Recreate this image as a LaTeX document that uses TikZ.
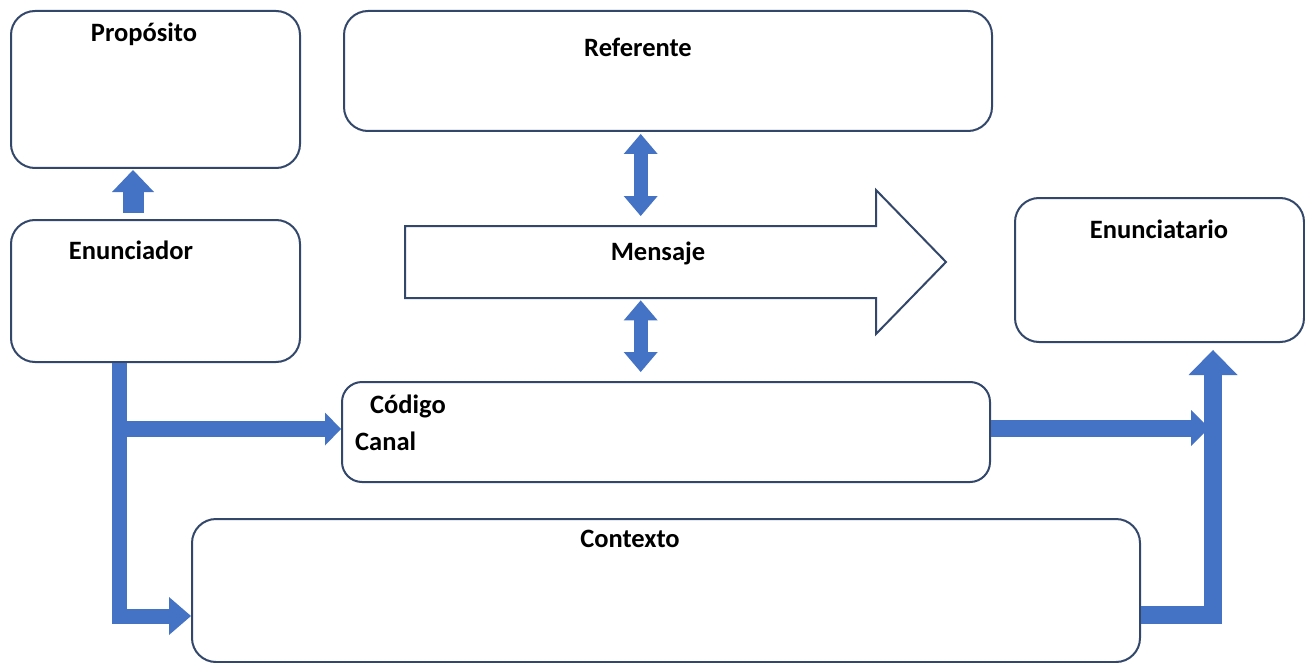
\documentclass[tikz,border=0pt]{standalone}
\usepackage{fontspec}
\setmainfont{Carlito}
\usetikzlibrary{arrows.meta,calc}
\definecolor{edgec}{HTML}{33476A}
\definecolor{bluef}{HTML}{4472C4}
\begin{document}
\begin{tikzpicture}[x=1pt,y=-1pt,
  box/.style={draw=edgec,line width=2pt,fill=white,rounded corners=24pt,anchor=north west,inner sep=0pt},
  lbl/.style={font=\bfseries\fontsize{26.5}{31}\selectfont,anchor=base,inner sep=0pt},
  conn/.style={draw=bluef,line width=16pt},
  msgshape/.style={draw=edgec,line width=2pt,fill=white,line join=miter}]
\useasboundingbox (0,0) rectangle (1305,663);
% boxes
\node[box,minimum width=289pt,minimum height=157pt] (prop) at (10,10) {};
\node[box,minimum width=648pt,minimum height=120pt] (ref) at (343,10) {};
\node[box,minimum width=289pt,minimum height=142pt] (enun) at (10,219) {};
\node[box,minimum width=289pt,minimum height=144pt] (enunc) at (1014,197) {};
\node[box,minimum width=648pt,minimum height=100pt,rounded corners=20pt] (cod) at (341,381) {};
\node[box,minimum width=948pt,minimum height=143pt] (ctx) at (191,518) {};
% message arrow
\node[inner sep=0pt,minimum width=471pt,minimum height=72pt,anchor=north west] (msgbody) at (405,226) {};
\draw[msgshape] (msgbody.north west) -- ++(471,0) -- ++(0,-36) -- ++(70,72) -- ++(-70,72) -- ++(0,-36) -- ++(-471,0) -- cycle;
% labels
\node[lbl] (tprop) at (144,42) {Propósito};
\node[lbl] (tref) at (638,57) {Referente};
\node[lbl] (tenun) at (131,259) {Enunciador};
\node[lbl] (tmsg) at (658,260) {Mensaje};
\node[lbl] (tenunc) at (1159,238) {Enunciatario};
\node[lbl,anchor=base west] (tcod) at (370,413) {Código};
\node[lbl,anchor=base west] (tcan) at (355,450) {Canal};
\node[lbl] (tctx) at (630,547) {Contexto};
% coordinates
\coordinate (jx) at ($(enun.south west)+(105,0)$);
\coordinate (rx) at ($(enunc.south)+(53.5,0)$);
% connectors
\draw[conn,line width=21pt,-{Triangle[width=42pt,length=22pt,line width=0pt]}]
  ($(enun.north)+(-22.5,-6)$) -- ($(prop.south)+(-22.5,1)$);
\draw[conn,line width=14pt,{Triangle[width=34pt,length=20pt,line width=0pt]}-{Triangle[width=34pt,length=20pt,line width=0pt]}]
  ($(ref.south -| msgbody.north)+(0,2)$) -- ($(msgbody.north)+(0,-10)$);
\draw[conn,line width=14pt,{Triangle[width=34pt,length=20pt,line width=0pt]}-{Triangle[width=34pt,length=20pt,line width=0pt]}]
  ($(msgbody.south)+(0,2)$) -- ($(msgbody.south |- cod.north)+(0,-9)$);
\draw[conn,line width=15pt,-{Triangle[width=38pt,length=22pt,line width=0pt]}]
  ($(enun.south west)+(109.5,0)$) |- ($(ctx.west)+(0,25.5)$);
\draw[conn,line width=16pt,-{Triangle[width=33pt,length=16pt,line width=0pt]}]
  ($(jx |- cod.west)+(0,-3)$) -- ($(cod.west)+(0,-3)$);
\draw[conn,line width=17pt,-{Triangle[width=36pt,length=18pt,line width=0pt]}]
  ($(cod.east)+(0,-4)$) -- ($(rx |- cod.east)+(-4,-4)$);
\draw[conn,line width=18pt,-{Triangle[width=49pt,length=25pt,line width=0pt]}]
  ($(ctx.east)+(0,24)$) -| ($(rx)+(0,7)$);
\end{tikzpicture}
\end{document}
